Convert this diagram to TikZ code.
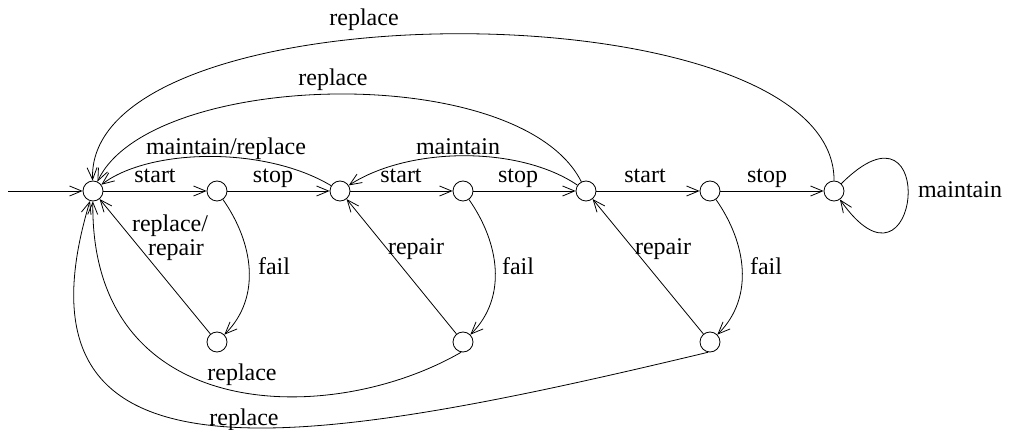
\documentclass[tikz,border=0pt]{standalone}
\usepackage{fontspec}
\setmainfont{Liberation Serif}
\usetikzlibrary{arrows.meta}
\begin{document}
\begin{tikzpicture}[x=1pt,y=-1pt,
  state/.style={circle,draw,line width=0.8pt,minimum size=20pt,inner sep=0pt},
  arr/.style={line width=0.8pt,-{Straight Barb[length=12pt,width=10pt,line width=0.8pt]}},
  lab/.style={anchor=base,inner sep=0pt,font=\fontsize{24}{26}\selectfont}]
\useasboundingbox (0,0) rectangle (1010,430);
% states
\node[state] (s0) at (93,191) {};
\node[state] (a1) at (217,191) {};
\node[state] (s1) at (340,191) {};
\node[state] (a2) at (463,191) {};
\node[state] (s2) at (586,191) {};
\node[state] (a3) at (710,191) {};
\node[state] (s3) at (834,191) {};
\node[state] (f1) at (217,342) {};
\node[state] (f2) at (463,342) {};
\node[state] (f3) at (710,342) {};
\coordinate (init) at (8,191);
% main row
\draw[arr] (init) -- (s0);
\draw[arr] (s0) -- (a1);
\draw[arr] (a1) -- (s1);
\draw[arr] (s1) -- (a2);
\draw[arr] (a2) -- (s2);
\draw[arr] (s2) -- (a3);
\draw[arr] (a3) -- (s3);
% fail
\draw[arr] (a1) to[out=-55,in=45] (f1);
\draw[arr] (a2) to[out=-55,in=45] (f2);
\draw[arr] (a3) to[out=-55,in=45] (f3);
% repair
\draw[arr] (f1) -- (s0);
\draw[arr] (f2) -- (s1);
\draw[arr] (f3) -- (s2);
% arcs above
\draw[arr] (s1) .. controls (265,146) and (150,148) .. (s0);
\draw[arr] (s2) .. controls (520,146) and (410,146) .. (s1);
\draw[arr] (s2) .. controls (520,60) and (150,70) .. (s0);
\draw[arr] (s3) .. controls (835,-15) and (85,-15) .. (s0);
% arcs below
\draw[arr] (f2.-100) .. controls (330,428) and (90,425) .. (s0);
\draw[arr] (f3.-100) .. controls (300,450) and (0,500) .. (s0);
% self loop
\draw[arr] (s3) to[out=45,in=-55,distance=140pt] (s3);
% labels
\node[lab] (l1) at (155,183) {start};
\node[lab] (l2) at (273,183) {stop};
\node[lab] (l3) at (401,183) {start};
\node[lab] (l4) at (518,183) {stop};
\node[lab] (l5) at (645,183) {start};
\node[lab] (l6) at (767,183) {stop};
\node[lab] (l7) at (226,155) {maintain/replace};
\node[lab] (l8) at (458,155) {maintain};
\node[lab] (l9) at (333,86) {replace};
\node[lab] (l10) at (364,26) {replace};
\node[lab] (l11) at (960,198) {maintain};
\node[lab] (l12) at (170,232) {replace/};
\node[lab] (l13) at (176,256) {repair};
\node[lab] (l14) at (416,255) {repair};
\node[lab] (l15) at (663,255) {repair};
\node[lab] (l16) at (274,275) {fail};
\node[lab] (l17) at (518,275) {fail};
\node[lab] (l18) at (766,275) {fail};
\node[lab] (l19) at (242,381) {replace};
\node[lab] (l20) at (244,425) {replace};
\end{tikzpicture}
\end{document}
